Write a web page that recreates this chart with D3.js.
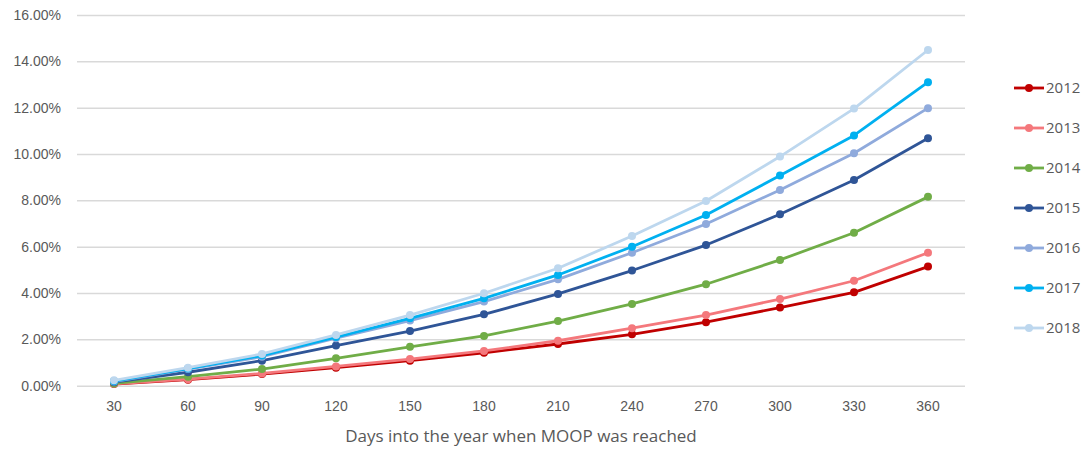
<!DOCTYPE html>
<html>
<head>
<meta charset="utf-8">
<script src="https://cdn.jsdelivr.net/npm/d3@7"></script>
<style>
  html, body { margin: 0; padding: 0; background: #fff; }
  svg { display: block; font-family: "Open Sans", "Noto Sans", sans-serif; }
</style>
</head>
<body>
<svg id="chart" width="1089" height="452"></svg>
<script>
// Days into the year (x categories)
const days = [30, 60, 90, 120, 150, 180, 210, 240, 270, 300, 330, 360];

// Share of members reaching MOOP, in percent, by year
const y2012 = [0.07, 0.26, 0.50, 0.78, 1.08, 1.42, 1.80, 2.22, 2.74, 3.37, 4.03, 5.14];
const y2013 = [0.08, 0.28, 0.53, 0.83, 1.15, 1.50, 1.94, 2.48, 3.05, 3.74, 4.53, 5.74];
const y2014 = [0.10, 0.39, 0.72, 1.18, 1.68, 2.15, 2.79, 3.53, 4.38, 5.43, 6.60, 8.15];
const y2015 = [0.15, 0.58, 1.08, 1.73, 2.36, 3.08, 3.96, 4.97, 6.07, 7.40, 8.88, 10.68];
const y2016 = [0.18, 0.72, 1.25, 2.05, 2.81, 3.63, 4.59, 5.74, 6.98, 8.45, 10.03, 11.98];
const y2017 = [0.20, 0.74, 1.30, 2.10, 2.91, 3.77, 4.78, 6.00, 7.37, 9.07, 10.80, 13.10];
const y2018 = [0.23, 0.78, 1.37, 2.19, 3.05, 3.99, 5.07, 6.46, 7.97, 9.89, 11.96, 14.49];

const years = ["2012", "2013", "2014", "2015", "2016", "2017", "2018"];
const seriesValues = [y2012, y2013, y2014, y2015, y2016, y2017, y2018];
const yTicks = [0, 2, 4, 6, 8, 10, 12, 14, 16];
const xTitle = "Days into the year when MOOP was reached";

const colors = ["#C00000", "#F4787C", "#70AD47", "#2F5597", "#8FAADC", "#00B0F0", "#BDD7EE"];

const svg = d3.select("#chart");
const plot = { left: 77, right: 965, top: 15, bottom: 385.7 };

const x = d3.scaleBand().domain(days).range([plot.left, plot.right]);
const y = d3.scaleLinear().domain([0, 16]).range([plot.bottom, plot.top]);
const cx = d => x(d) + x.bandwidth() / 2;

// Horizontal gridlines with percentage labels
const yAxis = d3.axisLeft(y)
  .tickValues(yTicks)
  .tickSize(-(plot.right - plot.left))
  .tickPadding(16)
  .tickFormat(d => d.toFixed(2) + "%");

svg.append("g")
  .attr("transform", `translate(${plot.left},0)`)
  .call(yAxis)
  .call(g => g.select(".domain").remove())
  .call(g => g.selectAll(".tick line").attr("stroke", "#D9D9D9").attr("stroke-width", 1.5))
  .call(g => g.selectAll(".tick text")
    .attr("fill", "#595959").style("font-size", "14px"));

// Category axis labels
const xAxis = d3.axisBottom(x).tickSize(0).tickPadding(15);
svg.append("g")
  .attr("transform", `translate(0,${plot.bottom})`)
  .call(xAxis)
  .call(g => g.select(".domain").remove())
  .call(g => g.selectAll(".tick text")
    .attr("fill", "#595959").style("font-size", "14px"));

// Axis title
svg.append("text")
  .attr("x", (plot.left + plot.right) / 2)
  .attr("y", 442)
  .attr("text-anchor", "middle")
  .attr("fill", "#595959")
  .style("font-size", "17px")
  .text(xTitle);

// Series lines with markers
const line = d3.line().x((v, i) => cx(days[i])).y(v => y(v));

years.forEach((yr, k) => {
  const g = svg.append("g");
  g.append("path")
    .datum(seriesValues[k])
    .attr("d", line)
    .attr("fill", "none")
    .attr("stroke", colors[k])
    .attr("stroke-width", 2.8)
    .attr("stroke-linejoin", "round");
  g.selectAll("circle")
    .data(seriesValues[k])
    .join("circle")
    .attr("cx", (v, i) => cx(days[i]))
    .attr("cy", v => y(v))
    .attr("r", 4)
    .attr("fill", colors[k]);
});

// Legend
const legend = svg.append("g");
years.forEach((yr, k) => {
  const ly = 88 + k * 40;
  const item = legend.append("g");
  item.append("line")
    .attr("x1", 1014).attr("x2", 1044)
    .attr("y1", ly).attr("y2", ly)
    .attr("stroke", colors[k]).attr("stroke-width", 2.8);
  item.append("circle")
    .attr("cx", 1029).attr("cy", ly).attr("r", 4)
    .attr("fill", colors[k]);
  item.append("text")
    .attr("x", 1046).attr("y", ly)
    .attr("dy", "0.35em")
    .attr("fill", "#595959")
    .style("font-size", "15px")
    .text(yr);
});
</script>
</body>
</html>
